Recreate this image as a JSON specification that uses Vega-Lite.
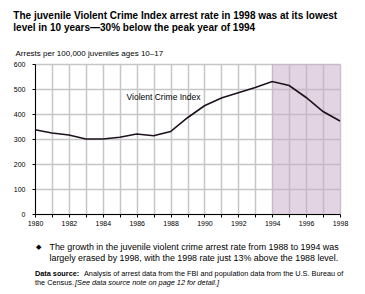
{
  "$schema": "https://vega.github.io/schema/vega-lite/v6.json",
  "background": "white",
  "padding": {"left": 13, "top": 11, "right": 0, "bottom": 0},
  "title": {
    "text": ["The juvenile Violent Crime Index arrest rate in 1998 was at its lowest", "level in 10 years—30% below the peak year of 1994"],
    "anchor": "start",
    "font": "Liberation Sans",
    "fontSize": 10,
    "fontWeight": "bold",
    "color": "#000000",
    "lineHeight": 12,
    "offset": 16
  },
  "config": {
    "view": {"stroke": null},
    "font": "Liberation Sans",
    "axis": {
      "grid": true,
      "gridColor": "#c6c6c6",
      "gridWidth": 1.5,
      "domainColor": "#000000",
      "domainWidth": 1,
      "tickColor": "#000000",
      "tickSize": 3,
      "labelFontSize": 7,
      "labelColor": "#000000",
      "labelOverlap": false,
      "labelBound": false,
      "labelFlush": false
    },
    "axisX": {
      "tickCount": 19,
      "format": "d",
      "labelExpr": "datum.value % 2 === 0 ? datum.label : ''",
      "labelPadding": 2
    },
    "axisY": {
      "tickCount": 6,
      "labelPadding": 7,
      "titleAngle": 0,
      "titleAlign": "left",
      "titleBaseline": "alphabetic",
      "titleX": -20,
      "titleY": -9,
      "titleFontSize": 8,
      "titleFontWeight": "normal",
      "titleColor": "#000000"
    }
  },
  "columns": 1,
  "align": "none",
  "spacing": 14,
  "concat": [
    {
      "width": 305,
      "height": 150,
      "layer": [
        {
          "data": {"values": [{"span": "1994–1998"}]},
          "mark": {"type": "rect", "fill": "#c5a9c5", "opacity": 0.5},
          "encoding": {
            "x": {"datum": 1994, "type": "quantitative", "title": null},
            "x2": {"datum": 1998},
            "y": {"datum": 0, "type": "quantitative", "title": "Arrests per 100,000 juveniles ages 10–17"},
            "y2": {"datum": 600}
          }
        },
        {
          "data": {
            "values": [
              {"year": 1980, "rate": 337},
              {"year": 1981, "rate": 324},
              {"year": 1982, "rate": 316},
              {"year": 1983, "rate": 300},
              {"year": 1984, "rate": 300},
              {"year": 1985, "rate": 307},
              {"year": 1986, "rate": 320},
              {"year": 1987, "rate": 313},
              {"year": 1988, "rate": 330},
              {"year": 1989, "rate": 385},
              {"year": 1990, "rate": 433},
              {"year": 1991, "rate": 464},
              {"year": 1992, "rate": 485},
              {"year": 1993, "rate": 506},
              {"year": 1994, "rate": 530},
              {"year": 1995, "rate": 514},
              {"year": 1996, "rate": 466},
              {"year": 1997, "rate": 410},
              {"year": 1998, "rate": 372}
            ]
          },
          "mark": {"type": "line", "color": "#1c111c", "strokeWidth": 1.6},
          "encoding": {
            "x": {
              "field": "year",
              "type": "quantitative",
              "title": null,
              "scale": {"domain": [1980, 1998], "nice": false, "zero": false}
            },
            "y": {
              "field": "rate",
              "type": "quantitative",
              "title": "Arrests per 100,000 juveniles ages 10–17",
              "scale": {"domain": [0, 600], "nice": false}
            }
          }
        },
        {
          "data": {"values": [{"label": "Violent Crime Index"}]},
          "mark": {"type": "text", "align": "left", "baseline": "alphabetic", "fontSize": 8.5, "color": "#000000"},
          "encoding": {
            "x": {"datum": 1985.4, "type": "quantitative", "title": null},
            "y": {"datum": 455, "type": "quantitative", "title": "Arrests per 100,000 juveniles ages 10–17"},
            "text": {"field": "label"}
          }
        }
      ]
    },
    {
      "columns": 1,
      "align": "none",
      "spacing": 6,
      "concat": [
        {
          "width": 330,
          "height": {"step": 10.5},
          "data": {
            "values": [
              {"line": 1, "text": "The growth in the juvenile violent crime arrest rate from 1988 to 1994 was"},
              {"line": 2, "text": "largely erased by 1998, with the 1998 rate just 13% above the 1988 level."}
            ]
          },
          "layer": [
            {
              "mark": {"type": "text", "align": "left", "baseline": "alphabetic", "fontSize": 8.9, "color": "#000000", "dx": 14.5, "dy": 5},
              "encoding": {
                "x": {"value": 0},
                "y": {"field": "line", "type": "ordinal", "axis": null},
                "text": {"field": "text"}
              }
            },
            {
              "data": {"values": [{"line": 1, "text": "◆"}]},
              "mark": {"type": "text", "align": "left", "baseline": "alphabetic", "font": "DejaVu Sans", "fontSize": 7, "color": "#000000", "dx": 1, "dy": 4},
              "encoding": {
                "x": {"value": 0},
                "y": {"field": "line", "type": "ordinal", "axis": null},
                "text": {"field": "text"}
              }
            }
          ]
        },
        {
          "width": 330,
          "height": {"step": 9},
          "data": {
            "values": [
              {"line": 1, "part": "label", "text": "Data source:"},
              {"line": 1, "part": "body", "text": "Analysis of arrest data from the FBI and population data from the U.S. Bureau of"},
              {"line": 2, "part": "body", "text": "the Census."},
              {"line": 2, "part": "note", "text": "[See data source note on page 12 for detail.]"}
            ]
          },
          "encoding": {
            "x": {"value": 0},
            "y": {"field": "line", "type": "ordinal", "axis": null},
            "text": {"field": "text"}
          },
          "layer": [
            {
              "transform": [{"filter": "datum.part === 'label'"}],
              "mark": {"type": "text", "align": "left", "baseline": "alphabetic", "fontSize": 7.3, "fontWeight": "bold", "color": "#000000", "dy": 2}
            },
            {
              "transform": [{"filter": "datum.part === 'body' && datum.line === 1"}],
              "mark": {"type": "text", "align": "left", "baseline": "alphabetic", "fontSize": 7.3, "color": "#000000", "dx": 49, "dy": 2}
            },
            {
              "transform": [{"filter": "datum.part === 'body' && datum.line === 2"}],
              "mark": {"type": "text", "align": "left", "baseline": "alphabetic", "fontSize": 7.3, "color": "#000000", "dy": 2}
            },
            {
              "transform": [{"filter": "datum.part === 'note'"}],
              "mark": {"type": "text", "align": "left", "baseline": "alphabetic", "fontSize": 7.3, "fontStyle": "italic", "color": "#000000", "dx": 40, "dy": 2}
            }
          ]
        }
      ]
    }
  ]
}
